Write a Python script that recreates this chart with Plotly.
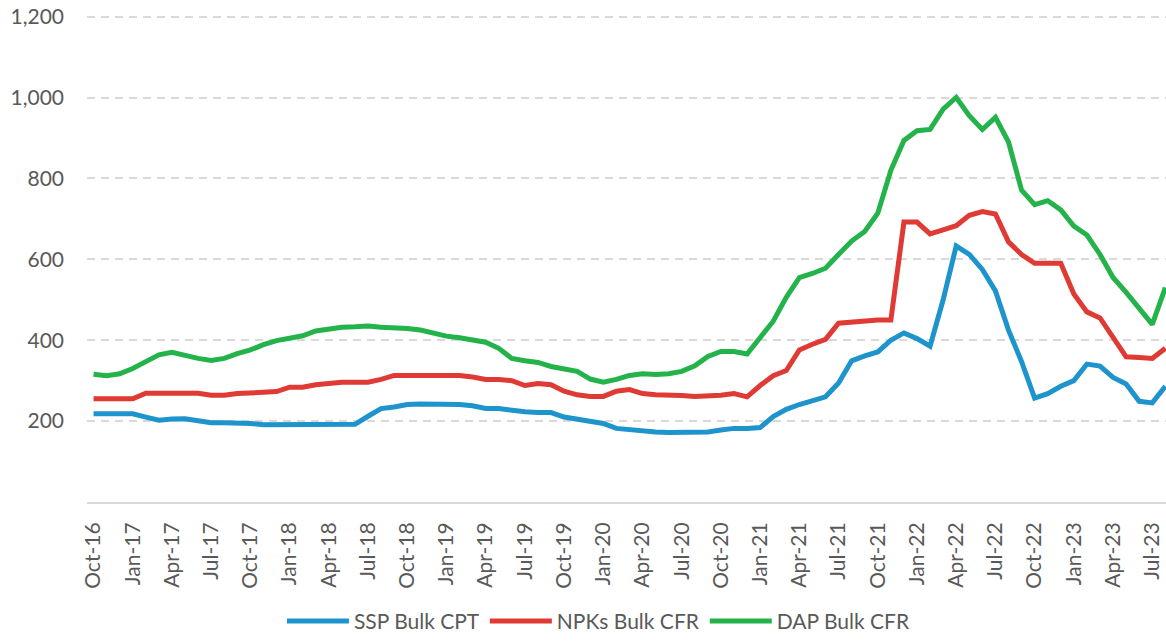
"""
Fertilizer prices: SSP / NPKs / DAP, monthly Oct-16 .. Aug-23
"""

import plotly.graph_objects as go

# ── 1. Data ───────────────────────────────────────────────────
months = [
    "Oct-16", "Nov-16", "Dec-16",
    "Jan-17", "Feb-17", "Mar-17", "Apr-17", "May-17", "Jun-17",
    "Jul-17", "Aug-17", "Sep-17", "Oct-17", "Nov-17", "Dec-17",
    "Jan-18", "Feb-18", "Mar-18", "Apr-18", "May-18", "Jun-18",
    "Jul-18", "Aug-18", "Sep-18", "Oct-18", "Nov-18", "Dec-18",
    "Jan-19", "Feb-19", "Mar-19", "Apr-19", "May-19", "Jun-19",
    "Jul-19", "Aug-19", "Sep-19", "Oct-19", "Nov-19", "Dec-19",
    "Jan-20", "Feb-20", "Mar-20", "Apr-20", "May-20", "Jun-20",
    "Jul-20", "Aug-20", "Sep-20", "Oct-20", "Nov-20", "Dec-20",
    "Jan-21", "Feb-21", "Mar-21", "Apr-21", "May-21", "Jun-21",
    "Jul-21", "Aug-21", "Sep-21", "Oct-21", "Nov-21", "Dec-21",
    "Jan-22", "Feb-22", "Mar-22", "Apr-22", "May-22", "Jun-22",
    "Jul-22", "Aug-22", "Sep-22", "Oct-22", "Nov-22", "Dec-22",
    "Jan-23", "Feb-23", "Mar-23", "Apr-23", "May-23", "Jun-23",
    "Jul-23", "Aug-23",
]

ssp_bulk_cpt = [
    218, 218, 218,
    218, 210, 202, 205, 206, 201,
    196, 196, 196, 194, 191, 191,
    191, 191, 191, 191, 192, 192,
    212, 231, 235, 241, 242, 242,
    242, 241, 238, 231, 231, 226,
    223, 221, 221, 210, 204, 200,
    194, 182, 178, 176, 173, 172,
    172, 172, 173, 178, 182, 182,
    184, 211, 229, 241, 251, 260,
    294, 349, 361, 371, 400, 418,
    404, 385, 500, 633, 612, 575,
    522, 425, 347, 257, 268, 286,
    300, 341, 336, 308, 292, 249,
    245, 286,
]

npks_bulk_cfr = [
    255, 255, 255,
    255, 269, 269, 269, 269, 269,
    264, 264, 268, 270, 271, 273,
    284, 284, 290, 294, 296, 296,
    296, 303, 313, 313, 313, 313,
    313, 313, 309, 303, 303, 300,
    288, 293, 290, 274, 265, 261,
    261, 274, 278, 268, 265, 265,
    263, 261, 261, 264, 268, 260,
    288, 312, 325, 376, 390, 402,
    442, 445, 449, 450, 450, 692,
    692, 663, 673, 683, 709, 718,
    712, 643, 612, 590, 590, 590,
    514, 470, 455, 408, 359, 357,
    355, 380,
]

dap_bulk_cfr = [
    316, 312, 317,
    330, 347, 364, 370, 362, 355,
    350, 355, 367, 376, 389, 399,
    405, 411, 423, 428, 432, 433,
    435, 432, 431, 429, 425, 417,
    410, 406, 401, 395, 380, 355,
    349, 345, 335, 328, 323, 304,
    296, 303, 313, 317, 315, 317,
    323, 337, 360, 372, 372, 366,
    409, 447, 506, 555, 565, 578,
    612, 645, 669, 714, 820, 894,
    918, 921, 971, 1000, 955, 921,
    951, 890, 771, 735, 745, 722,
    682, 660, 612, 555, 518, 477,
    439, 530,
]

series = [
    ("SSP Bulk CPT", ssp_bulk_cpt, "#1e94cc"),
    ("NPKs Bulk CFR", npks_bulk_cfr, "#e03a34"),
    ("DAP Bulk CFR", dap_bulk_cfr, "#23b34a"),
]

# quarterly tick labels; y labels skip 0
tick_labels = months[::3]
y_ticks = [200, 400, 600, 800, 1000, 1200]

# ── 2. Figure ─────────────────────────────────────────────────
fig = go.Figure()

for name, values, color in series:
    fig.add_trace(
        go.Scatter(
            x=months,
            y=values,
            mode="lines",
            name=name,
            line=dict(color=color, width=5),
        )
    )

fig.update_layout(
    width=1166,
    height=642,
    margin=dict(l=87, r=0, t=15, b=135),
    paper_bgcolor="#ffffff",
    plot_bgcolor="#ffffff",
    font=dict(family="Lato", size=21, color="#595959"),
    showlegend=True,
    legend=dict(
        orientation="h",
        x=0.474,
        xanchor="center",
        y=-0.245,
        yanchor="middle",
        font=dict(size=21, color="#595959"),
        itemwidth=62,
        tracegroupgap=0,
    ),
)

fig.update_xaxes(
    type="category",
    range=[-0.5, 82.05],
    tickmode="array",
    tickvals=tick_labels,
    ticktext=tick_labels,
    tickangle=-90,
    showgrid=False,
    showline=True,
    linecolor="#d9d9d9",
    linewidth=2,
    ticks="",
    ticklabelstandoff=10,
)

# top slightly above 1,200 so its gridline is drawn
fig.update_yaxes(
    range=[0, 1204],
    tickvals=y_ticks,
    tickformat=",",
    ticklabeloverflow="allow",
    showgrid=True,
    gridcolor="#d9d9d9",
    griddash="8px,6px",
    gridwidth=2,
    zeroline=False,
    showline=False,
    ticks="",
    ticklabelstandoff=22,
)

# ── 3. Export ─────────────────────────────────────────────────
# drop the default body margin so the figure fills the window
fig.write_html(
    "out.html",
    config={"displayModeBar": False},
    post_script="document.body.style.margin='0';",
)
